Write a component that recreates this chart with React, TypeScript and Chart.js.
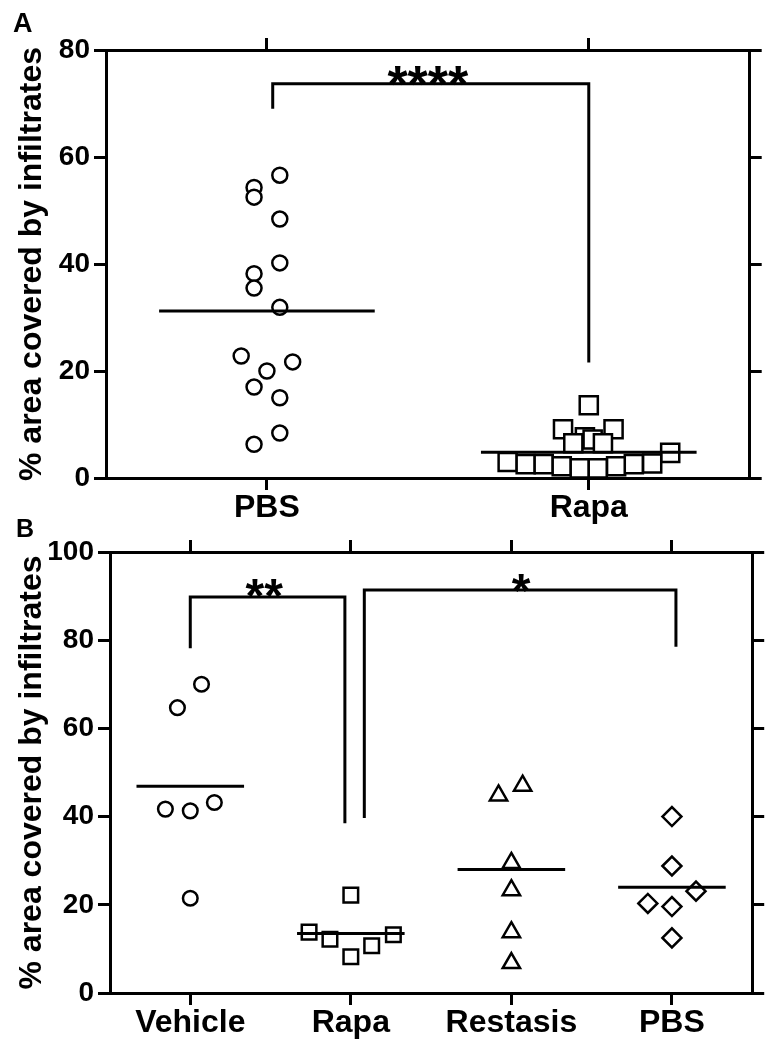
import React, { useEffect, useRef } from 'react';
import { Chart, registerables } from 'chart.js';

Chart.register(...registerables);

const FONT = "'Liberation Sans', Arial, Helvetica, sans-serif";
const Y_TITLE = '% area covered by infiltrates';

// ---------- Panel A ----------
const catsA = ['PBS', 'Rapa'];
const yTicksA = [0, 20, 40, 60, 80];
const pbsA = [56.6, 54.3, 52.5, 48.4, 40.2, 38.2, 35.5, 31.9, 22.8, 21.7, 20.0, 17.0, 15.0, 8.4, 6.3];
const pbsAJitter = [0.04, -0.04, -0.04, 0.04, 0.04, -0.04, -0.04, 0.04, -0.08, 0.08, 0, -0.04, 0.04, 0.04, -0.04];
const rapaA = [13.6, 9.1, 9.1, 7.6, 7.2, 6.5, 6.5, 4.7, 3.0, 2.6, 2.6, 2.2, 1.8, 1.8, 2.2, 2.6, 2.7];
const rapaAJitter = [0, -0.08, 0.077, -0.012, 0.012, -0.048, 0.044, 0.253, -0.252, -0.196, -0.14, -0.084, -0.028, 0.028, 0.085, 0.14, 0.197];
const meansA = [31.2, 4.8];
const bracketAX = [1.018, 1.018, 2, 2];
const bracketAY = [69.0, 73.7, 73.7, 21.6];
const starsA = [{ text: '****', x: 1.5, y: 75.9 }];

// ---------- Panel B ----------
const catsB = ['Vehicle', 'Rapa', 'Restasis', 'PBS'];
const yTicksB = [0, 20, 40, 60, 80, 100];
const vehicleB = [70.0, 64.7, 43.2, 41.3, 41.7, 21.5];
const vehicleBJitter = [0.07, -0.08, 0.15, 0, -0.155, 0];
const rapaB = [22.2, 13.8, 12.2, 13.2, 10.7, 8.2];
const rapaBJitter = [0, -0.26, -0.13, 0.265, 0.13, 0];
const restasisB = [47.0, 44.8, 29.5, 23.3, 13.8, 6.8];
const restasisBJitter = [0.07, -0.08, 0, 0, 0, 0];
const pbsB = [40.0, 28.8, 23.1, 20.3, 19.6, 12.5];
const pbsBJitter = [0, 0, 0.15, -0.15, 0, 0];
const meansB = [46.9, 13.5, 28.0, 24.0];
const bracketB1X = [1, 1, 1.963, 1.963];
const bracketB1Y = [78.2, 89.8, 89.8, 38.5];
const bracketB2X = [2.084, 2.084, 4.025, 4.025];
const bracketB2Y = [39.7, 91.4, 91.4, 78.5];
const starsB = [
  { text: '**', x: 1.46, y: 92.5 },
  { text: '*', x: 3.06, y: 93.7 },
];

const MEAN_HALF = 0.335;

type Group = { values: number[]; jitter: number[]; style: string; radius: number };

type PanelOpts = {
  cats: string[];
  yTicks: number[];
  groups: Group[];
  means: number[];
  brackets: { x: number[]; y: number[] }[];
  stars: { text: string; x: number; y: number }[];
  starSize: number;
  letter: string;
  letterX: number;
  letterY: number;
  letterSize: number;
  leftW: number;
  rightW: number;
  topH: number;
  bottomH: number;
};

function buildConfig(p: PanelOpts): any {
  const yMin = p.yTicks[0];
  const yMax = p.yTicks[p.yTicks.length - 1];
  const xMin = 0.5;
  const xMax = p.cats.length + 0.5;
  const catTicks = () => p.cats.map((_, i) => ({ value: i + 1 }));
  const yTickList = () => p.yTicks.map((v) => ({ value: v }));

  const datasets: any[] = [];
  // mean lines (drawn on top)
  p.means.forEach((m, i) => {
    datasets.push({
      data: [
        { x: i + 1 - MEAN_HALF, y: m },
        { x: i + 1 + MEAN_HALF, y: m },
      ],
      showLine: true,
      borderColor: '#000',
      borderWidth: 3,
      pointRadius: 0,
      borderCapStyle: 'butt',
      clip: false,
    });
  });
  // brackets
  p.brackets.forEach((b) => {
    datasets.push({
      data: b.x.map((x, i) => ({ x, y: b.y[i] })),
      showLine: true,
      borderColor: '#000',
      borderWidth: 3,
      pointRadius: 0,
      borderJoinStyle: 'miter',
      borderCapStyle: 'butt',
      clip: false,
    });
  });
  // points
  p.groups.forEach((g, gi) => {
    datasets.push({
      data: g.values.map((v, i) => ({ x: gi + 1 + g.jitter[i], y: v })),
      showLine: false,
      pointStyle: g.style,
      pointRadius: g.radius,
      pointBorderWidth: 2.5,
      pointBorderColor: '#000',
      pointBackgroundColor: '#fff',
      borderColor: '#000',
      backgroundColor: '#fff',
      clip: false,
    });
  });

  const gridOpts = (len: number) => ({
    drawOnChartArea: false,
    color: '#000',
    lineWidth: 3,
    tickLength: len,
  });
  const border = { display: true, color: '#000', width: 3 };

  const annot = {
    id: 'annot',
    afterDraw(chart: any) {
      const { ctx, scales } = chart;
      ctx.save();
      ctx.fillStyle = '#000';
      ctx.textAlign = 'left';
      ctx.textBaseline = 'alphabetic';
      ctx.font = `bold ${p.letterSize}px ${FONT}`;
      ctx.fillText(p.letter, p.letterX, p.letterY);
      ctx.font = `bold ${p.starSize}px ${FONT}`;
      ctx.textAlign = 'center';
      p.stars.forEach((s) => {
        const x = scales.x.getPixelForValue(s.x);
        const y = scales.y.getPixelForValue(s.y) + 0.57 * p.starSize;
        ctx.fillText(s.text, x, y);
      });
      ctx.restore();
    },
  };

  return {
    type: 'scatter',
    data: { datasets },
    plugins: [annot],
    options: {
      responsive: false,
      animation: false,
      devicePixelRatio: 1,
      events: [],
      layout: { padding: 0 },
      plugins: { legend: { display: false }, tooltip: { enabled: false } },
      scales: {
        x: {
          type: 'linear',
          position: 'bottom',
          min: xMin,
          max: xMax,
          afterBuildTicks: (axis: any) => {
            axis.ticks = catTicks();
          },
          afterFit: (axis: any) => {
            axis.height = p.bottomH;
          },
          ticks: {
            autoSkip: false,
            maxRotation: 0,
            color: '#000',
            padding: 2,
            font: { family: FONT, size: 32, weight: 'bold', lineHeight: 1 },
            callback: (v: any) => p.cats[Math.round(Number(v)) - 1] ?? '',
          },
          grid: gridOpts(12),
          border,
        },
        xTop: {
          type: 'linear',
          position: 'top',
          min: xMin,
          max: xMax,
          afterBuildTicks: (axis: any) => {
            axis.ticks = catTicks();
          },
          afterFit: (axis: any) => {
            axis.height = p.topH;
          },
          ticks: { display: false },
          grid: gridOpts(12),
          border,
        },
        y: {
          type: 'linear',
          position: 'left',
          min: yMin,
          max: yMax,
          afterBuildTicks: (axis: any) => {
            axis.ticks = yTickList();
          },
          afterFit: (axis: any) => {
            axis.width = p.leftW;
          },
          ticks: {
            color: '#000',
            padding: 4,
            font: { family: FONT, size: 28, weight: 'bold' },
          },
          title: {
            display: true,
            text: Y_TITLE,
            color: '#000',
            font: { family: FONT, size: 32, weight: 'bold' },
            padding: { top: 13, bottom: 0 },
          },
          grid: gridOpts(12),
          border,
        },
        yRight: {
          type: 'linear',
          position: 'right',
          min: yMin,
          max: yMax,
          afterBuildTicks: (axis: any) => {
            axis.ticks = yTickList();
          },
          afterFit: (axis: any) => {
            axis.width = p.rightW;
          },
          ticks: { display: false },
          grid: gridOpts(12),
          border,
        },
      },
    },
  };
}

export default function App() {
  const refA = useRef<HTMLCanvasElement>(null);
  const refB = useRef<HTMLCanvasElement>(null);

  useEffect(() => {
    const chartA = new Chart(
      refA.current as HTMLCanvasElement,
      buildConfig({
        cats: catsA,
        yTicks: yTicksA,
        groups: [
          { values: pbsA, jitter: pbsAJitter, style: 'circle', radius: 7.5 },
          { values: rapaA, jitter: rapaAJitter, style: 'rect', radius: 12.8 },
        ],
        means: meansA,
        brackets: [{ x: bracketAX, y: bracketAY }],
        stars: starsA,
        starSize: 52,
        letter: 'A',
        letterX: 13,
        letterY: 32,
        letterSize: 27,
        leftW: 106,
        rightW: 7,
        topH: 50,
        bottomH: 46,
      })
    );
    const chartB = new Chart(
      refB.current as HTMLCanvasElement,
      buildConfig({
        cats: catsB,
        yTicks: yTicksB,
        groups: [
          { values: vehicleB, jitter: vehicleBJitter, style: 'circle', radius: 7.3 },
          { values: rapaB, jitter: rapaBJitter, style: 'rect', radius: 10.3 },
          { values: restasisB, jitter: restasisBJitter, style: 'triangle', radius: 10 },
          { values: pbsB, jitter: pbsBJitter, style: 'rectRot', radius: 9.5 },
        ],
        means: meansB,
        brackets: [
          { x: bracketB1X, y: bracketB1Y },
          { x: bracketB2X, y: bracketB2Y },
        ],
        stars: starsB,
        starSize: 48,
        letter: 'B',
        letterX: 16,
        letterY: 37,
        letterSize: 25,
        leftW: 110,
        rightW: 7,
        topH: 52,
        bottomH: 52,
      })
    );
    return () => {
      chartA.destroy();
      chartB.destroy();
    };
  }, []);

  return (
    <div style={{ position: 'absolute', left: 0, top: 0, width: 765, height: 1045, background: '#fff' }}>
      <canvas ref={refA} width={765} height={524} style={{ position: 'absolute', left: 0, top: 0, display: 'block' }} />
      <canvas ref={refB} width={765} height={545} style={{ position: 'absolute', left: 0, top: 500, display: 'block' }} />
    </div>
  );
}
